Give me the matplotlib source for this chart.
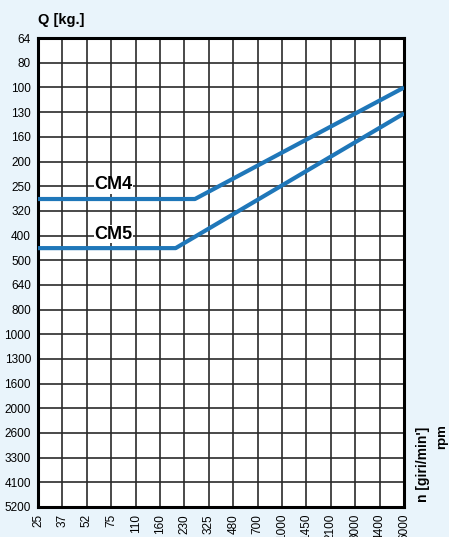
import matplotlib.pyplot as plt
import numpy as np

plt.rcParams['font.family'] = ['Liberation Sans', 'DejaVu Sans']

# load values (top to bottom) and speeds (left to right)
q_labels = ['64', '80', '100', '130', '160', '200', '250', '320', '400', '500',
            '640', '800', '1000', '1300', '1600', '2000', '2600', '3300', '4100', '5200']
n_labels = ['25', '37', '52', '75', '110', '160', '230', '325', '480', '700',
            '1000', '1450', '2100', '3000', '4400', '6000']

# curves in grid-index units (x: speed index, y: load index)
cm4_x = [0, 6.43, 15]
cm4_y = [6.52, 6.52, 2.0]
cm5_x = [0, 5.64, 15]
cm5_y = [8.51, 8.51, 3.05]

bg = '#e9f4fb'
blue = '#1f77b9'

fig = plt.figure(figsize=(4.49, 5.37), dpi=100, facecolor=bg)
ax = fig.add_axes([0.0846, 0.0559, 0.8154, 0.8731])
ax.set_facecolor('white')

ax.set_xlim(0, len(n_labels) - 1)
ax.set_ylim(len(q_labels) - 1, 0)
ax.set_xticks(np.arange(len(n_labels)))
ax.set_xticklabels(n_labels, rotation=90, fontsize=8.5)
ax.set_yticks(np.arange(len(q_labels)))
ax.set_yticklabels(q_labels, fontsize=8.5)
ax.tick_params(length=0, pad=5)

ax.grid(True, color='#2a2a2a', linewidth=1.2)
ax.set_axisbelow(True)
for s in ax.spines.values():
    s.set_linewidth(2.2)
    s.set_color('black')

ax.plot(cm4_x, cm4_y, color=blue, linewidth=3, solid_capstyle='butt', zorder=3)
ax.plot(cm5_x, cm5_y, color=blue, linewidth=3, solid_capstyle='butt', zorder=3)

ax.text(3.1, 5.95, 'CM4', fontsize=13, fontweight='bold', ha='center', va='center',
        bbox=dict(facecolor='white', edgecolor='none', pad=0.3), zorder=4)
ax.text(3.1, 7.95, 'CM5', fontsize=13, fontweight='bold', ha='center', va='center',
        bbox=dict(facecolor='white', edgecolor='none', pad=0.3), zorder=4)

fig.text(38 / 449, 1 - 20 / 537, 'Q [kg.]', fontsize=10.5, fontweight='bold',
         ha='left', va='center')
fig.text(423 / 449, 1 - 464 / 537, "n [giri/min']", fontsize=10, fontweight='bold',
         rotation=90, ha='center', va='center')
fig.text(442 / 449, 1 - 437 / 537, 'rpm', fontsize=9.5, fontweight='bold',
         rotation=90, ha='center', va='center')

fig.savefig('out.png', dpi=100, facecolor=bg)
